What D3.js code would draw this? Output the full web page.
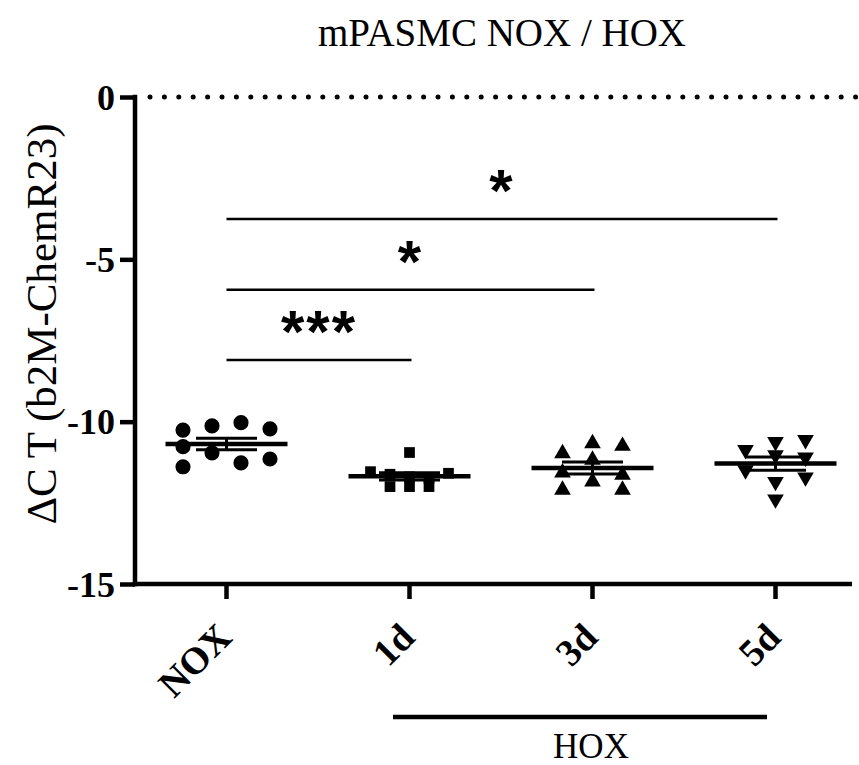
<!DOCTYPE html>
<html>
<head>
<meta charset="utf-8">
<script src="https://cdn.jsdelivr.net/npm/d3@7"></script>
<style>
  body { margin: 0; background: #fff; }
  svg { display: block; }
</style>
</head>
<body>
<svg id="chart" width="859" height="765"></svg>
<script>
// data
var categories = ['NOX', '1d', '3d', '5d'];
var shapes = ['circle', 'square', 'triangle', 'triangleDown'];

var noxValues = [-10.26, -10.77, -11.39, -10.13, -10.96, -10.03, -11.27, -10.22, -11.15];
var noxLanes  = [-1.5, -1.5, -1.5, -0.5, -0.5, 0.5, 0.5, 1.5, 1.5];

var d1Values = [-10.95, -11.70, -12.0, -11.54, -12.0, -11.62, -12.0, -11.75, -11.59];
var d1Lanes  = [0, 0, 0, -2, -1, -1, 1, 1, 2];

var d3Values = [-10.98, -11.57, -12.10, -10.67, -11.18, -11.85, -10.75, -11.64, -12.10];
var d3Lanes  = [-1, -1, -1, 0, 0, 0, 1, 1, 1];

var d5Values = [-10.87, -11.49, -10.62, -11.03, -11.85, -12.39, -10.56, -11.10, -11.71];
var d5Lanes  = [-1, -1, 0, 0, 0, 0, 1, 1, 1];

var yTicks = [0, -5, -10, -15];

var sigFrom   = ['NOX', 'NOX', 'NOX'];
var sigTo     = ['1d', '3d', '5d'];
var sigLevel  = [-8.1, -5.94, -3.76];
var sigLabels = ['***', '*', '*'];

var groups = [
  {name: 'NOX', values: noxValues, lanes: noxLanes, step: 29},
  {name: '1d', values: d1Values, lanes: d1Lanes, step: 19.5},
  {name: '3d', values: d3Values, lanes: d3Lanes, step: 30},
  {name: '5d', values: d5Values, lanes: d5Lanes, step: 30}
];

var serif = "'Liberation Serif', 'Times New Roman', serif";

var svg = d3.select('#chart');

var plotLeft = 135, plotBottom = 584, plotTop = 97, plotRight = 852;

var y = d3.scaleLinear().domain([-15, 0]).range([plotBottom, plotTop]);
var x = d3.scaleBand().domain(categories).range([plotLeft, plotLeft + 4 * 183]);
var cx = function (c) { return x(c) + x.bandwidth() / 2; };

// title
svg.append('text')
  .attr('x', 502).attr('y', 46)
  .attr('text-anchor', 'middle')
  .style('font-family', serif)
  .style('font-size', '39px')
  .text('mPASMC NOX / HOX');

// y label
svg.append('text')
  .attr('transform', 'translate(56,324) rotate(-90)')
  .attr('text-anchor', 'middle')
  .style('font-family', serif)
  .style('font-size', '43px')
  .text('\u0394C T (b2M-ChemR23)');

// dotted zero line
svg.append('line')
  .attr('x1', 150).attr('x2', 859)
  .attr('y1', y(0)).attr('y2', y(0))
  .attr('stroke', '#000')
  .attr('stroke-width', 5)
  .attr('stroke-linecap', 'round')
  .attr('stroke-dasharray', '0,14.4');

// y axis
var yAxis = svg.append('g')
  .attr('transform', 'translate(' + plotLeft + ',0)')
  .call(d3.axisLeft(y).tickValues(yTicks).tickSize(15).tickPadding(5).tickFormat(d3.format('d')));
yAxis.select('.domain').remove();
yAxis.selectAll('.tick line').attr('stroke', '#000').attr('stroke-width', 4.5);
yAxis.selectAll('.tick text')
  .attr('dy', '0.34em')
  .style('font-family', serif)
  .style('font-weight', 'bold')
  .style('font-size', '36px')
  .text(function (d) { return d === 0 ? '0' : '-' + Math.abs(d); });
svg.append('line')
  .attr('x1', plotLeft).attr('x2', plotLeft)
  .attr('y1', plotTop - 2.25).attr('y2', plotBottom + 2.25)
  .attr('stroke', '#000').attr('stroke-width', 4.5);

// x axis
var xAxis = svg.append('g')
  .attr('transform', 'translate(0,' + plotBottom + ')')
  .call(d3.axisBottom(x).tickSize(15).tickPadding(0));
xAxis.select('.domain').remove();
xAxis.selectAll('.tick line').attr('stroke', '#000').attr('stroke-width', 4.5);
xAxis.selectAll('.tick text')
  .attr('text-anchor', 'end')
  .attr('dy', 0)
  .attr('transform', 'translate(-3.5,45) rotate(-45)')
  .style('font-family', serif)
  .style('font-weight', 'bold')
  .style('font-size', '38px');
svg.append('line')
  .attr('x1', plotLeft - 2.25).attr('x2', plotRight)
  .attr('y1', plotBottom).attr('y2', plotBottom)
  .attr('stroke', '#000').attr('stroke-width', 4.5);

// HOX bracket
svg.append('line')
  .attr('x1', 393).attr('x2', 767)
  .attr('y1', 717).attr('y2', 717)
  .attr('stroke', '#000').attr('stroke-width', 4.5);
svg.append('text')
  .attr('x', 591).attr('y', 758)
  .attr('text-anchor', 'middle')
  .style('font-family', serif)
  .style('font-size', '35px')
  .text('HOX');

// points
var symbolFor = {
  circle: d3.symbol().type(d3.symbolCircle).size(180),
  square: d3.symbol().type(d3.symbolSquare).size(115),
  triangle: d3.symbol().type(d3.symbolTriangle).size(120),
  triangleDown: d3.symbol().type(d3.symbolTriangle).size(120)
};

groups.forEach(function (g, gi) {
  var shape = shapes[gi];
  var gr = svg.append('g');

  gr.selectAll('path')
    .data(g.values)
    .enter()
    .append('path')
    .attr('d', symbolFor[shape])
    .attr('transform', function (d, i) {
      var px = cx(g.name) + g.lanes[i] * g.step;
      var t = 'translate(' + px + ',' + y(d) + ')';
      if (shape === 'triangleDown') { t += ' rotate(180)'; }
      return t;
    })
    .attr('fill', '#000');

  // mean and SEM
  var mean = d3.mean(g.values);
  var sem = d3.deviation(g.values) / Math.sqrt(g.values.length);
  var c = cx(g.name);

  gr.append('line')
    .attr('x1', c - 61).attr('x2', c + 61)
    .attr('y1', y(mean)).attr('y2', y(mean))
    .attr('stroke', '#000').attr('stroke-width', 4.5);
  gr.append('line')
    .attr('x1', c).attr('x2', c)
    .attr('y1', y(mean + sem)).attr('y2', y(mean - sem))
    .attr('stroke', '#000').attr('stroke-width', 3);
  [mean + sem, mean - sem].forEach(function (v) {
    gr.append('line')
      .attr('x1', c - 30.5).attr('x2', c + 30.5)
      .attr('y1', y(v)).attr('y2', y(v))
      .attr('stroke', '#000').attr('stroke-width', 3);
  });
});

// significance bars
sigLabels.forEach(function (lab, i) {
  var x1 = cx(sigFrom[i]), x2 = cx(sigTo[i]) + 2;
  svg.append('line')
    .attr('x1', x1).attr('x2', x2)
    .attr('y1', y(sigLevel[i])).attr('y2', y(sigLevel[i]))
    .attr('stroke', '#000').attr('stroke-width', 2.5);
  svg.append('text')
    .attr('x', (x1 + x2) / 2)
    .attr('y', y(sigLevel[i]) - 8)
    .attr('text-anchor', 'middle')
    .style('font-family', 'Liberation Sans')
    .style('font-weight', 'bold')
    .style('font-size', '60px')
    .style('letter-spacing', '2px')
    .text(lab);
});
</script>
</body>
</html>
